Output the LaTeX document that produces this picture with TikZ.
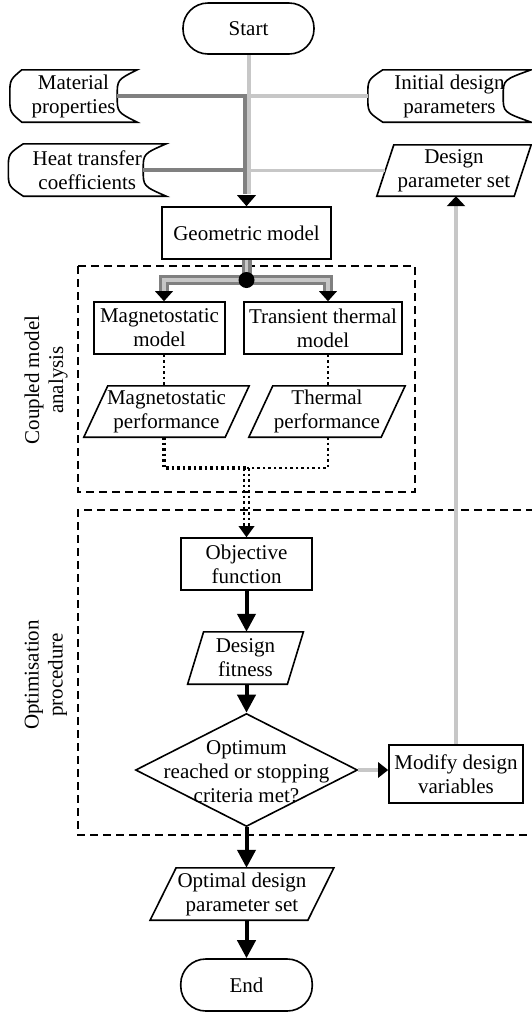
\documentclass[tikz,border=0pt]{standalone}
\usepackage{fontspec}
\setmainfont{Liberation Serif}
\usetikzlibrary{arrows.meta,shapes.geometric}
\definecolor{dkg}{gray}{0.5}
\definecolor{ltg}{gray}{0.78}
\newcommand{\storedshape}[3]{%
  \draw[shp] ([xshift=#2]#1.north west) -- (#1.north east)
    .. controls ([xshift=-#3,yshift=-10pt]#1.north east) .. ([xshift=-#3]#1.east)
    .. controls ([xshift=-#3,yshift=10pt]#1.south east) .. (#1.south east)
    -- ([xshift=#2]#1.south west)
    .. controls ([yshift=10pt]#1.south west) .. (#1.west)
    .. controls ([yshift=-10pt]#1.north west) .. ([xshift=#2]#1.north west) -- cycle;}
\newcommand{\paragram}[2]{%
  \draw[shp] ([xshift=#2]#1.north west) -- (#1.north east) -- ([xshift=-#2]#1.south east) -- (#1.south west) -- cycle;}
\begin{document}
\begin{tikzpicture}[x=1pt,y=1pt,
  every node/.style={font=\fontsize{21}{24}\selectfont, align=center, inner sep=0pt},
  shp/.style={line width=1.6pt},
  boxn/.style={draw, line width=1.6pt},
  term/.style={draw, line width=1.6pt, rounded corners=25pt},
  dg/.style={draw=dkg, line width=3.8pt},
  lg/.style={draw=ltg, line width=3.8pt},
  blk/.style={line width=4pt, -{Triangle[length=18pt,width=18pt]}},
  dotl/.style={line width=2.5pt, dash pattern=on 2.5pt off 3pt},
  dbox/.style={line width=2.2pt, dash pattern=on 8pt off 5pt}]
\useasboundingbox (0,0) rectangle (532,-1013);

% group frames
\draw[dbox] (78,-266) rectangle (415,-492);
\draw[dbox] (560,-510) -- (78,-510) -- (78,-835) -- (560,-835);
\node[rotate=90] (lab1) at (46,-380) {Coupled model\\analysis};
\node[rotate=90] (lab2) at (46,-675) {Optimisation\\procedure};

% nodes
\node[term, minimum width=131pt, minimum height=51pt] (start) at (248.5,-28.5) {Start};
\node[minimum width=127pt, minimum height=52pt] (mat) at (73.5,-96) {Material\\properties};
\storedshape{mat}{12pt}{20pt}
\node[minimum width=157.5pt, minimum height=52pt] (heat) at (87.25,-170) {Heat transfer\\coefficients};
\storedshape{heat}{15pt}{23pt}
\node[minimum width=163pt, minimum height=52pt] (init) at (449.5,-96) {Initial design\\parameters};
\storedshape{init}{15pt}{28pt}
\node[minimum width=154pt, minimum height=51pt] (dps) at (454,-170.5) {Design\\parameter set};
\paragram{dps}{17pt}
\node[boxn, minimum width=169pt, minimum height=52pt] (geo) at (246.5,-233) {Geometric model};
\node[boxn, minimum width=131pt, minimum height=52pt] (mag) at (159.5,-328) {Magnetostatic\\model};
\node[boxn, minimum width=158pt, minimum height=52pt] (trans) at (323,-328) {Transient thermal\\model};
\node[minimum width=165pt, minimum height=51pt] (magp) at (166.5,-411.5) {Magnetostatic\\performance};
\paragram{magp}{24pt}
\node[minimum width=156pt, minimum height=51pt] (thp) at (327,-411.5) {Thermal\\performance};
\paragram{thp}{24pt}
\node[boxn, minimum width=131.5pt, minimum height=52pt] (obj) at (246.5,-564) {Objective\\function};
\node[minimum width=115.4pt, minimum height=52pt] (fit) at (245.5,-658) {Design\\fitness};
\paragram{fit}{16pt}
\node[diamond, draw, line width=1.6pt, minimum width=222pt, minimum height=113pt] (dia) at (246.5,-770) {};
\node (diatext) at (246.5,-772) {Optimum\\reached or stopping\\criteria met?};
\node[boxn, minimum width=134pt, minimum height=58pt] (mod) at (456,-774) {Modify design\\variables};
\node[minimum width=183.4pt, minimum height=52pt] (opt) at (242,-894) {Optimal design\\parameter set};
\paragram{opt}{26pt}
\node[term, minimum width=131.5pt, minimum height=52pt] (end) at (246.5,-985) {End};

% top inputs
\coordinate (dk) at (245,-194);
\coordinate (lt) at (248.7,-194);
\draw[lg] (start.south -| lt) -- (lt);
\draw[lg] (init.west) -- (init.west -| lt);
\draw[lg] ([xshift=8.5pt]dps.west) -- (dps.west -| lt);
\draw[dg] ([xshift=-20pt]mat.east) -| (dk);
\draw[dg] ([xshift=-23pt]heat.east) -- (heat.east -| dk);
\fill (geo.north) -- ++(-9.5,11) -- ++(19,0) -- cycle;

% junction to models
\coordinate (junc) at (246.5,-280);
\draw[dkg, line width=10pt] (geo.south) -- (junc);
\draw[dkg, line width=10pt] (junc) -| ([xshift=4.5pt,yshift=10pt]mag.north);
\draw[dkg, line width=10pt] (junc) -| ([xshift=5pt,yshift=10pt]trans.north);
\draw[ltg, line width=3.5pt] (geo.south) -- (junc);
\draw[ltg, line width=3.5pt] (junc) -| ([xshift=4.5pt,yshift=10pt]mag.north);
\draw[ltg, line width=3.5pt] (junc) -| ([xshift=5pt,yshift=10pt]trans.north);
\fill ([xshift=4.5pt]mag.north) -- ++(-9,10) -- ++(18,0) -- cycle;
\fill ([xshift=5pt]trans.north) -- ++(-9,10) -- ++(18,0) -- cycle;
\fill (junc) circle[radius=8pt];

% dotted result lines
\coordinate (dotj) at (246.5,-468);
\draw[dotl] ([xshift=4.5pt]mag.south) -- ([xshift=4.5pt]mag.south |- magp.north);
\draw[dotl] ([xshift=5pt]trans.south) -- ([xshift=5pt]trans.south |- thp.north);
\draw[dotl, line width=3.2pt] ([xshift=4.5pt]mag.south |- magp.south) |- (dotj);
\draw[dotl] ([xshift=5pt]trans.south |- thp.south) |- (dotj);
\draw[dotl, line width=2.8pt] ([xshift=-2.5pt]dotj) -- ([xshift=-2.5pt,yshift=11pt]obj.north);
\draw[dotl, line width=2.8pt] ([xshift=2.5pt]dotj) -- ([xshift=2.5pt,yshift=11pt]obj.north);
\fill (obj.north) -- ++(-8,11) -- ++(16,0) -- cycle;

% main flow
\draw[blk] (obj.south) -- (obj.south |- fit.north);
\draw[blk] (obj.south |- fit.south) -- (dia.north);
\draw[blk] (dia.south) -- (dia.south |- opt.north);
\draw[blk] (dia.south |- opt.south) -- (end.north);

% feedback loop
\draw[lg, -{Triangle[length=10pt,width=15pt,color=black]}] (dia.east) -- (dia.east -| mod.west);
\draw[lg, -{Triangle[length=10pt,width=18pt,color=black]}] (mod.north) -- (mod.north |- dps.south);
\end{tikzpicture}
\end{document}
